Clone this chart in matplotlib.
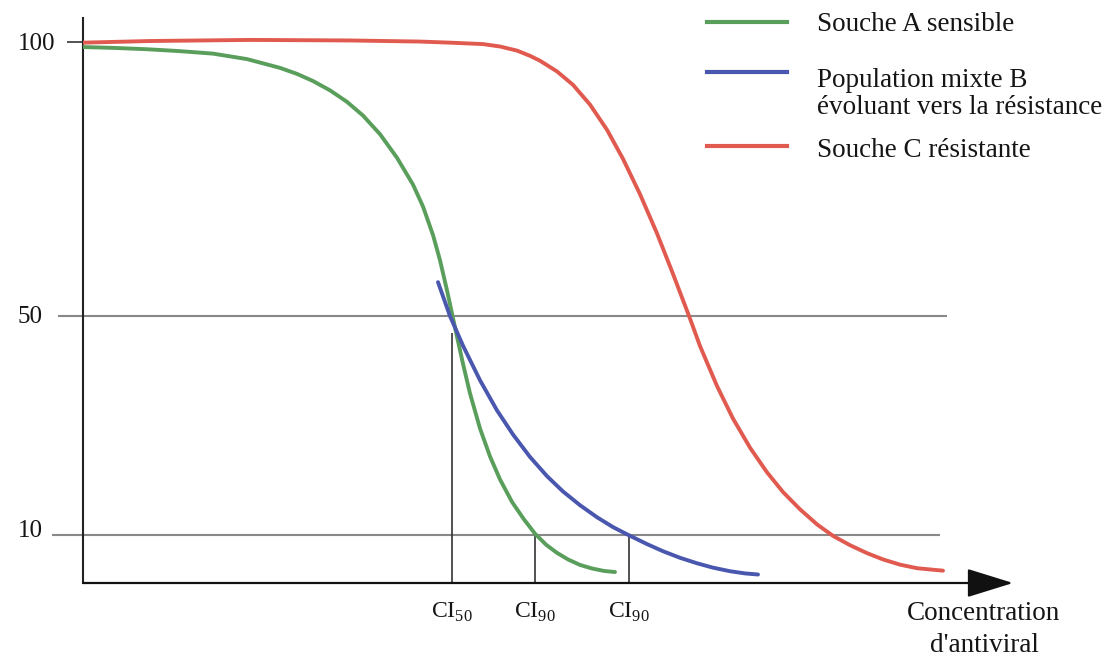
import matplotlib
matplotlib.use("Agg")
import matplotlib.pyplot as plt
from matplotlib.lines import Line2D

plt.rcParams['font.family'] = ['Liberation Serif', 'DejaVu Serif']
plt.rcParams['mathtext.fontset'] = 'custom'
plt.rcParams['mathtext.rm'] = 'Liberation Serif'

# concentration d'antiviral (arbitrary units) vs % replication
conc_a = [0, 30, 64, 97, 130, 164, 197, 214, 230, 247, 264, 280, 297, 314, 330,
          340, 350, 357, 364, 369, 374, 380, 387, 397, 407, 417, 429, 441, 452,
          463, 474, 485, 497, 509, 521, 532]
pct_a = [99.1, 98.95, 98.7, 98.35, 97.9, 96.9, 95.3, 94.2, 92.9, 91.2, 89.1,
         86.6, 83.2, 78.9, 74.0, 70.0, 64.8, 60.2, 54.7, 50.5, 46.25, 41.3, 35.9,
         29.5, 24.4, 20.2, 16.1, 12.9, 10.3, 8.3, 6.8, 5.6, 4.6, 3.95, 3.5, 3.3]

conc_b = [355, 361, 367, 380, 397, 414, 430, 447, 464, 480, 497, 514, 530, 546,
          564, 580, 597, 614, 630, 647, 662, 675]
pct_b = [56.2, 53.1, 50.0, 44.6, 38.3, 32.8, 28.4, 24.3, 20.8, 18.0, 15.5, 13.3,
         11.5, 10.0, 8.4, 7.1, 5.9, 4.9, 4.1, 3.45, 3.05, 2.85]

conc_c = [0, 67, 167, 267, 337, 367, 400, 417, 434, 447, 457, 474, 490, 507, 524,
          540, 557, 574, 590, 607, 617, 634, 650, 667, 684, 700, 717, 734, 750,
          767, 784, 800, 817, 834, 860]
pct_c = [99.9, 100.2, 100.4, 100.3, 100.1, 99.9, 99.64, 99.2, 98.45, 97.5, 96.6,
         94.65, 92.2, 88.6, 84.0, 78.7, 72.25, 65.1, 57.7, 49.55, 44.55, 37.25,
         31.3, 26.0, 21.5, 17.9, 14.75, 12.0, 9.9, 8.2, 6.75, 5.6, 4.65, 4.0, 3.55]

ytick_vals = [100, 50, 10]
ytick_labels = ['100', '50', '10']
ci_conc = [369, 452, 546]
ci_level = [47, 10, 10]
ci_labels = ['CI$_{50}$', 'CI$_{90}$', 'CI$_{90}$']

series_labels = ['Souche A sensible',
                 'Population mixte B\névoluant vers la résistance',
                 'Souche C résistante']
colors = ['#5a9e5c', '#4a57ae', '#e15a4f']
txt_col = '#151515'

W, H = 1117, 663
fig = plt.figure(figsize=(W / 100, H / 100), dpi=100)
ax = fig.add_axes([83 / W, 1 - 583 / H, 930 / W, 565 / H])
ax.set_xlim(0, 930)
ax.set_ylim(1.3, 104.4)
y0 = ax.get_ylim()[0]

for s in ['top', 'right', 'bottom']:
    ax.spines[s].set_visible(False)
ax.spines['left'].set_linewidth(1.5)
ax.spines['left'].set_color('#222222')

# reference levels
ax.hlines(100, -16, 0, color='#444444', lw=1.3, clip_on=False)
ax.hlines(50, -25, 864, color='#888888', lw=1.5, clip_on=False, zorder=1)
ax.hlines(10, -31, 857, color='#888888', lw=1.5, clip_on=False, zorder=1)
ax.vlines(ci_conc, y0, ci_level, color='#333333', lw=1.2, zorder=1)

for xs, ys, c in [(conc_a, pct_a, colors[0]), (conc_b, pct_b, colors[1]),
                  (conc_c, pct_c, colors[2])]:
    ax.plot(xs, ys, color=c, lw=2.8, zorder=3, solid_capstyle='round',
            solid_joinstyle='round')

# x axis with arrow
ax.annotate('', xy=(930, y0), xytext=(0, y0), annotation_clip=False,
            arrowprops=dict(arrowstyle='-|>,head_length=2.9,head_width=0.9',
                            mutation_scale=10, lw=1.6, color='#111111',
                            shrinkA=0, shrinkB=0))

ax.set_xticks(ci_conc, ci_labels, fontsize=17, color=txt_col)
ax.tick_params(axis='x', length=0, pad=13)

# y labels placed by hand (they sit a little off their lines in the original)
ax.set_yticks([])
for val, lab, dx, dy in zip(ytick_vals, ytick_labels, [-20, -29, -29], [-1.5, -0.3, 2.8]):
    ax.annotate(lab, xy=(0, val), xycoords=('axes fraction', 'data'),
                xytext=(dx, dy), textcoords='offset points', ha='right',
                va='center', fontsize=18, color=txt_col)

# legend
leg_y = [22, 72, 146]
for yy, c in zip(leg_y, colors):
    fig.add_artist(Line2D([707 / W, 787 / W], [1 - yy / H] * 2,
                          transform=fig.transFigure, color=c, lw=3))
text_lines = [series_labels[0]] + series_labels[1].split('\n') + [series_labels[2]]
for yy, txt in zip([31, 87, 114, 157], text_lines):
    fig.text(817 / W, 1 - yy / H, txt, fontsize=19.5, va='baseline', color=txt_col)

fig.text(984 / W, 1 - 620 / H, 'Concentration', fontsize=19.5, ha='center',
         va='baseline', color=txt_col)
fig.text(984 / W, 1 - 652 / H, "d'antiviral", fontsize=19.5, ha='center',
         va='baseline', color=txt_col)

fig.savefig('out.png', dpi=100, facecolor='white')
